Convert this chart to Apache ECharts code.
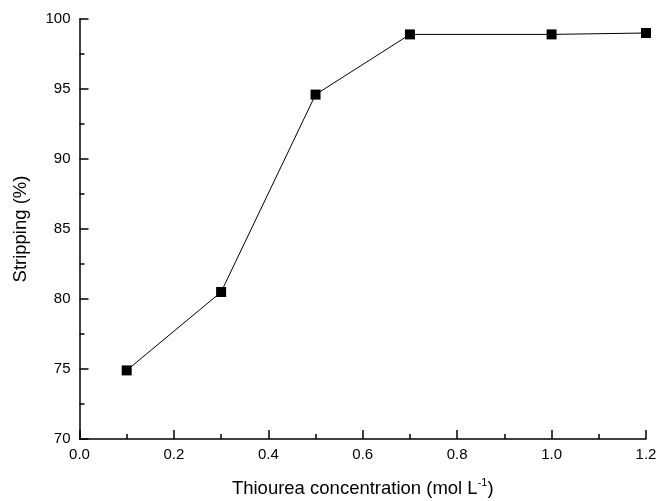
<!DOCTYPE html>
<html>
<head>
<meta charset="utf-8">
<script src="https://cdn.jsdelivr.net/npm/echarts@6/dist/echarts.min.js"></script>
<style>
  html, body { margin: 0; padding: 0; background: #fff; }
  #main { width: 659px; height: 501px; }
</style>
</head>
<body>
<div id="main"></div>
<script>
// thiourea concentration (mol/L) vs stripping (%)
var concentration = [0.1, 0.3, 0.5, 0.7, 1.0, 1.2];
var stripping = [74.9, 80.5, 94.6, 98.9, 98.9, 99.0];

var chart = echarts.init(document.getElementById('main'));

var axisFont = { fontFamily: 'Liberation Sans', fontSize: 15, color: '#000' };

var option = {
  animation: false,
  grid: { left: 79.5, right: 13, top: 19, bottom: 62, outerBoundsMode: 'none', containLabel: false },
  xAxis: {
    type: 'value',
    min: 0, max: 1.2, interval: 0.2,
    name: 'Thiourea concentration (mol L{sup|-1})',
    nameLocation: 'middle',
    nameGap: 38,
    nameTextStyle: {
      fontFamily: 'Liberation Sans', fontSize: 18.5, color: '#000',
      rich: {
        sup: { fontFamily: 'Liberation Sans', fontSize: 11, color: '#000', verticalAlign: 'top', padding: [0, 0, 12, 0] }
      }
    },
    axisLine: { lineStyle: { color: '#000', width: 1.5 } },
    axisTick: { inside: true, length: 9, lineStyle: { color: '#000', width: 1.5 } },
    minorTick: { show: true, splitNumber: 2, length: 5, lineStyle: { color: '#000', width: 1.5 } },
    axisLabel: Object.assign({ margin: 8, formatter: function (v) { return v.toFixed(1); } }, axisFont),
    splitLine: { show: false }
  },
  yAxis: {
    type: 'value',
    min: 70, max: 100, interval: 5,
    name: 'Stripping (%)',
    nameLocation: 'middle',
    nameGap: 49,
    nameTextStyle: { fontFamily: 'Liberation Sans', fontSize: 18.5, color: '#000' },
    axisLine: { show: true, lineStyle: { color: '#000', width: 1.5 } },
    axisTick: { show: true, inside: true, length: 9, lineStyle: { color: '#000', width: 1.5 } },
    minorTick: { show: true, splitNumber: 2, length: 5, lineStyle: { color: '#000', width: 1.5 } },
    axisLabel: Object.assign({ margin: 9 }, axisFont),
    splitLine: { show: false }
  },
  series: [{
    type: 'line',
    data: concentration.map(function (x, i) { return [x, stripping[i]]; }),
    symbol: 'rect',
    symbolSize: 10,
    lineStyle: { color: '#000', width: 1 },
    itemStyle: { color: '#000' }
  }]
};

chart.setOption(option);
</script>
</body>
</html>
